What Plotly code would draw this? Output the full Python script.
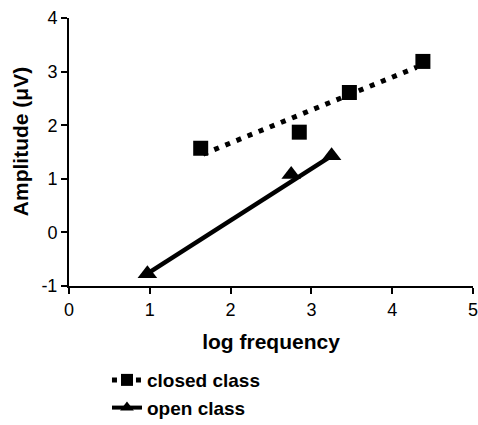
import plotly.graph_objects as go

# closed class data
closed_x = [1.63, 2.85, 3.47, 4.38]
closed_y = [1.57, 1.87, 2.61, 3.19]
# closed class regression line (endpoints)
closed_fit_x = [1.66, 4.30]
closed_fit_y = [1.46, 3.08]

# open class data
open_x = [0.97, 2.75, 3.25]
open_y = [-0.77, 1.08, 1.43]
# open class regression line
open_fit_x = [0.97, 3.22]
open_fit_y = [-0.77, 1.40]

x_ticks = [0, 1, 2, 3, 4, 5]
y_ticks = [-1, 0, 1, 2, 3, 4]

FONT = "Liberation Sans, Arial, Helvetica, sans-serif"
DOT = "5px,7px"

fig = go.Figure()
fig.add_trace(go.Scatter(x=closed_fit_x, y=closed_fit_y, mode="lines",
                         line=dict(color="black", width=5, dash=DOT),
                         showlegend=False, hoverinfo="skip"))
fig.add_trace(go.Scatter(x=closed_x, y=closed_y, mode="markers",
                         marker=dict(symbol="square", size=15, color="black"),
                         showlegend=False))
fig.add_trace(go.Scatter(x=open_fit_x, y=open_fit_y, mode="lines",
                         line=dict(color="black", width=4.5),
                         showlegend=False, hoverinfo="skip"))
fig.add_trace(go.Scatter(x=open_x, y=open_y, mode="markers",
                         marker=dict(symbol="triangle-up", size=17, color="black"),
                         showlegend=False))
# legend entries
fig.add_trace(go.Scatter(x=[None], y=[None], mode="lines+markers", name="closed class",
                         line=dict(color="black", width=5, dash=DOT),
                         marker=dict(symbol="square", size=12, color="black")))
fig.add_trace(go.Scatter(x=[None], y=[None], mode="lines+markers", name="open class",
                         line=dict(color="black", width=4),
                         marker=dict(symbol="triangle-up", size=12, color="black")))

fig.update_layout(
    width=478, height=440,
    margin=dict(l=69, r=5, t=18, b=154),
    paper_bgcolor="white", plot_bgcolor="white",
    font=dict(family=FONT, color="black", size=18),
    showlegend=True,
    legend=dict(x=0.094, y=-0.28, xanchor="left", yanchor="top",
                font=dict(family=FONT, size=19, color="black", weight="bold"),
                bgcolor="rgba(0,0,0,0)", tracegroupgap=0),
    xaxis=dict(range=[0, 5], tickvals=x_ticks, ticktext=[str(v) for v in x_ticks],
               showgrid=False, zeroline=False, showline=True, linecolor="black",
               linewidth=2, ticks="outside", ticklen=6, tickwidth=2, tickcolor="black",
               tickfont=dict(size=18), automargin=False, ticklabeloverflow="allow",
               title=dict(text="<b>log frequency</b>", font=dict(size=21), standoff=16)),
    yaxis=dict(range=[-1, 4], tickvals=y_ticks, ticktext=[str(v) for v in y_ticks],
               showgrid=False, zeroline=False, showline=True, linecolor="black",
               linewidth=2, ticks="outside", ticklen=6, tickwidth=2, tickcolor="black",
               tickfont=dict(size=18), automargin=False, ticklabeloverflow="allow"),
    annotations=[dict(text="<b>Amplitude (μV)</b>", xref="paper", yref="paper",
                      x=-0.121, y=0.537, xanchor="center", yanchor="middle",
                      textangle=-90, showarrow=False, font=dict(size=21))],
)

fig.write_html("out.html",
               config={"displayModeBar": False},
               post_script="document.body.style.margin='0px';"
                           "document.body.style.overflow='hidden';")
